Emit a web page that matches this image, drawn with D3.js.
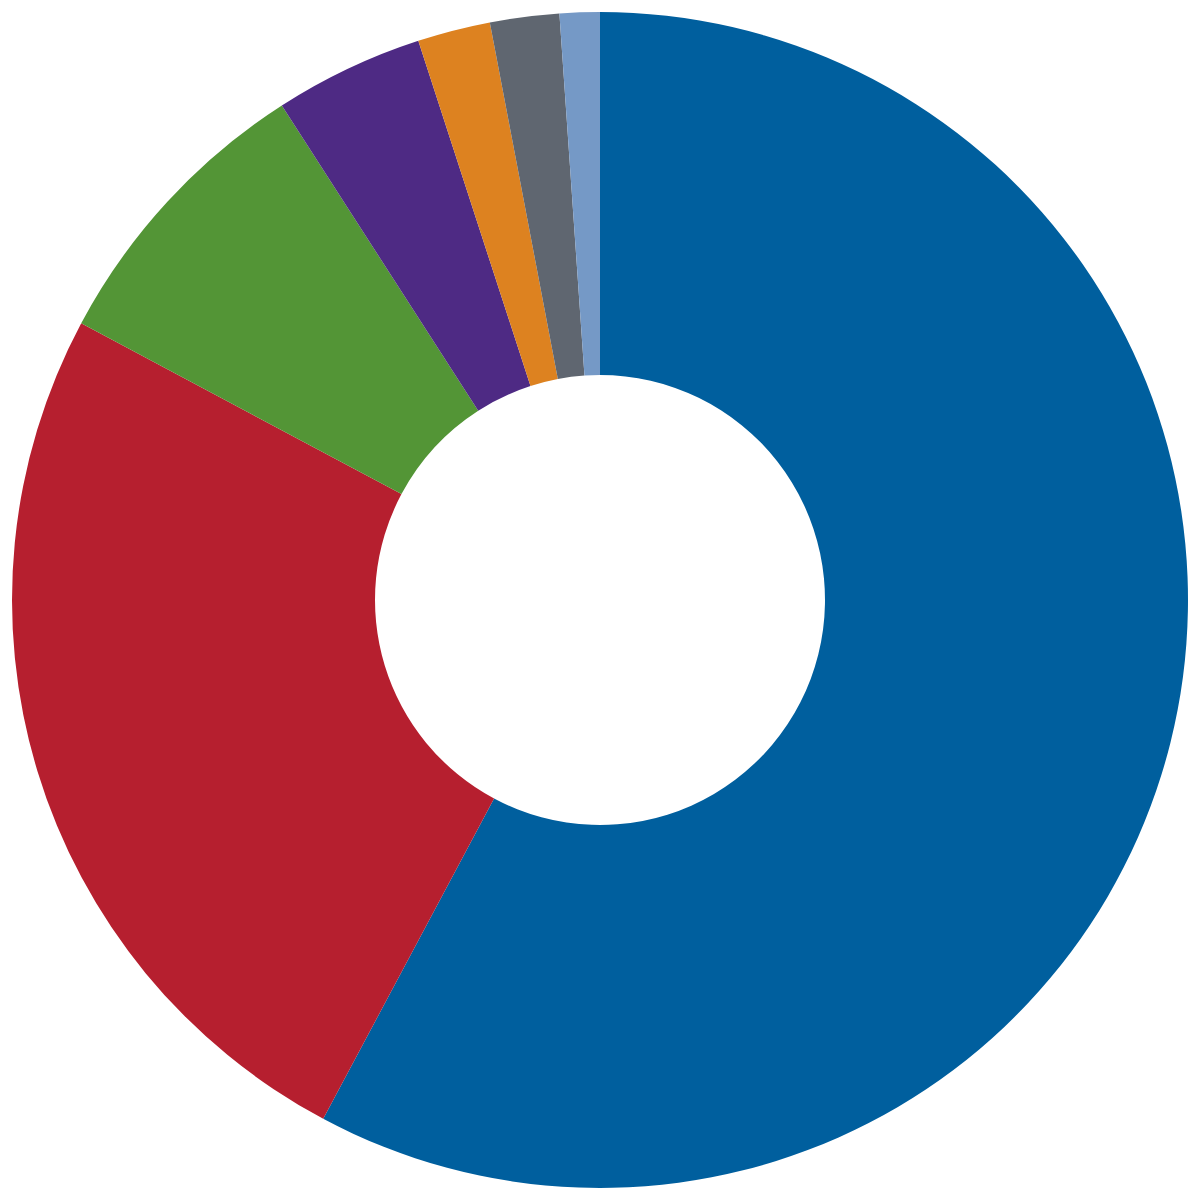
<!DOCTYPE html>
<html>
<head>
<meta charset="utf-8">
<script src="https://cdn.jsdelivr.net/npm/d3@7"></script>
<style>
html,body{margin:0;padding:0;background:#fff;}
svg{display:block;}
</style>
</head>
<body>
<svg id="chart" width="1200" height="1200"></svg>
<script>
const categories = ["A", "B", "C", "D", "E", "F", "G"];
const values = [57.8, 25.0, 8.1, 4.1, 2.0, 1.9, 1.1];
const colors = ["#005f9e", "#b61f2f", "#539536", "#4e2a84", "#dd8220", "#5f6670", "#7599c6"];

const svg = d3.select("#chart");
const cx = 600, cy = 600, outerR = 588, innerR = 225;

const data = categories.map((c, i) => ({cat: c, value: values[i]}));
const pie = d3.pie().value(d => d.value).sort(null);
const arc = d3.arc().innerRadius(innerR).outerRadius(outerR);
const color = d3.scaleOrdinal().domain(categories).range(colors);

svg.append("g")
  .attr("transform", `translate(${cx},${cy})`)
  .selectAll("path")
  .data(pie(data))
  .join("path")
  .attr("d", arc)
  .attr("fill", d => color(d.data.cat));
</script>
</body>
</html>
